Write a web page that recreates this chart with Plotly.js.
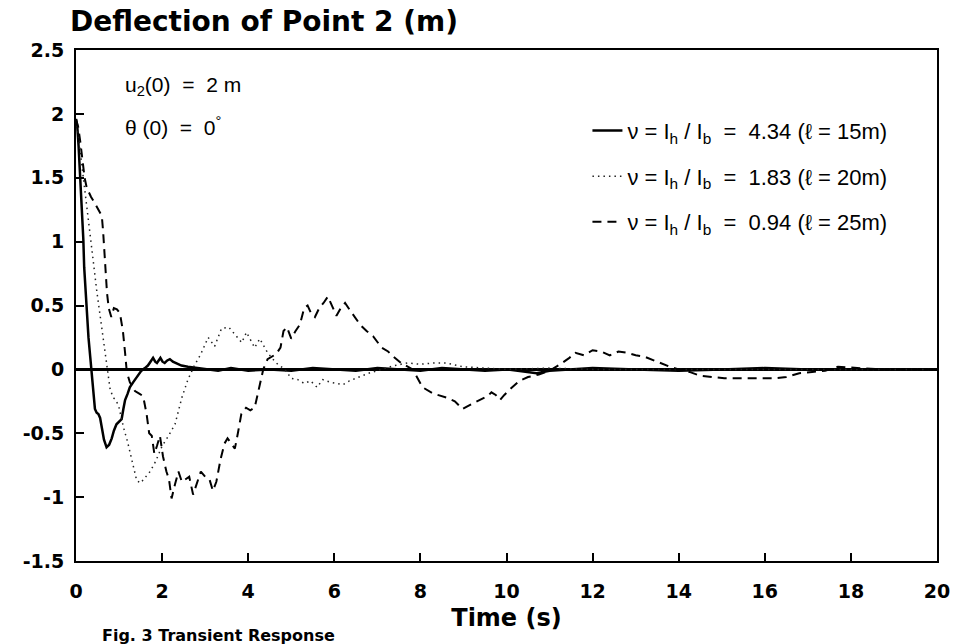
<!DOCTYPE html>
<html>
<head>
<meta charset="utf-8">
<script src="https://cdn.plot.ly/plotly-3.0.1.min.js"></script>
<style>html,body{margin:0;padding:0;background:#fff;}#chart{width:958px;height:644px;}</style>
</head>
<body>
<div id="chart"></div>
<script>
// ---- data ----
const seriesNames = [
  'ν = I<sub>h</sub> / I<sub>b</sub>  =  4.34 (ℓ = 15m)',
  'ν = I<sub>h</sub> / I<sub>b</sub>  =  1.83 (ℓ = 20m)',
  'ν = I<sub>h</sub> / I<sub>b</sub>  =  0.94 (ℓ = 25m)'
];

const tSolid = [0, 0.03, 0.06, 0.1, 0.14, 0.17, 0.19, 0.24, 0.29, 0.33, 0.36, 0.4, 0.44, 0.48, 0.52, 0.56, 0.6, 0.65, 0.71, 0.77,
  0.83, 0.88, 0.94, 1.0, 1.06, 1.1, 1.14, 1.2, 1.25, 1.33, 1.41, 1.47, 1.52, 1.6, 1.67, 1.73, 1.79, 1.84, 1.88, 1.92,
  1.96, 2.01, 2.06, 2.12, 2.18, 2.25, 2.33, 2.45, 2.6, 2.8, 3.0, 3.3, 3.6, 4.0, 4.5, 5.0, 5.5, 6.0, 6.5, 7.0,
  7.5, 8.0, 8.5, 9.0, 9.5, 10.0, 10.4, 10.7, 11.0, 11.5, 12, 13, 14, 15, 16, 17, 18, 19, 20];
const ySolid = [1.96, 1.9, 1.75, 1.5, 1.22, 1.02, 0.8, 0.5, 0.25, 0.1, 0.0, -0.17, -0.31, -0.34, -0.35, -0.38, -0.46, -0.55, -0.61, -0.59,
  -0.54, -0.48, -0.43, -0.41, -0.39, -0.31, -0.24, -0.19, -0.14, -0.1, -0.06, -0.03, -0.01, 0.01, 0.03, 0.06, 0.09, 0.06, 0.05, 0.07,
  0.09, 0.06, 0.05, 0.07, 0.08, 0.06, 0.05, 0.03, 0.02, 0.01, 0.0, -0.01, 0.01, -0.01, 0.0, -0.01, 0.01, 0.0, -0.01, 0.01,
  0.0, -0.01, 0.01, 0.0, -0.01, 0.0, -0.02, -0.03, -0.01, 0.0, 0.01, 0.0, -0.01, 0.0, 0.01, 0.0, 0.0, 0.0, 0.0];

const tDotted = [0, 0.05, 0.1, 0.15, 0.2, 0.25, 0.3, 0.35, 0.4, 0.48, 0.56, 0.64, 0.72, 0.79, 0.86, 0.93, 1.0, 1.1, 1.2, 1.3,
  1.41, 1.5, 1.6, 1.72, 1.85, 2.0, 2.15, 2.3, 2.46, 2.6, 2.75, 2.9, 3.07, 3.22, 3.38, 3.55, 3.7, 3.85, 3.96, 4.15,
  4.27, 4.45, 4.65, 4.85, 5.0, 5.15, 5.3, 5.45, 5.6, 5.73, 5.9, 6.05, 6.2, 6.35, 6.5, 6.8, 7.1, 7.4, 7.7, 8.0,
  8.3, 8.6, 9.0, 9.5, 10, 11, 12, 13, 14, 15, 16, 17, 18, 19, 20];
const yDotted = [1.95, 1.85, 1.7, 1.55, 1.4, 1.25, 1.12, 1.0, 0.85, 0.62, 0.41, 0.2, 0.02, -0.15, -0.22, -0.24, -0.3, -0.45, -0.57, -0.72,
  -0.87, -0.89, -0.85, -0.8, -0.72, -0.6, -0.52, -0.43, -0.22, -0.08, 0.03, 0.12, 0.25, 0.18, 0.32, 0.33, 0.27, 0.21, 0.29, 0.17,
  0.24, 0.13, 0.05, 0.0, -0.07, -0.08, -0.11, -0.09, -0.14, -0.08, -0.1, -0.11, -0.12, -0.09, -0.07, -0.03, 0.0, 0.03, 0.05, 0.04,
  0.05, 0.05, 0.02, 0.01, 0.0, 0.01, 0.0, 0.0, 0.0, 0.0, 0.0, 0.0, 0.0, 0.0, 0.0];

const tDashed = [0, 0.05, 0.1, 0.15, 0.2, 0.25, 0.3, 0.35, 0.44, 0.52, 0.6, 0.63, 0.66, 0.69, 0.72, 0.76, 0.82, 0.88, 0.95, 1.02,
  1.09, 1.14, 1.18, 1.25, 1.37, 1.47, 1.56, 1.64, 1.7, 1.76, 1.82, 1.88, 1.95, 2.02, 2.1, 2.16, 2.22, 2.3, 2.38, 2.46,
  2.55, 2.63, 2.72, 2.8, 2.9, 3.0, 3.1, 3.18, 3.26, 3.36, 3.45, 3.52, 3.6, 3.69, 3.76, 3.84, 3.95, 4.05, 4.15, 4.24,
  4.35, 4.45, 4.55, 4.65, 4.75, 4.82, 4.9, 5.0, 5.1, 5.2, 5.3, 5.38, 5.46, 5.55, 5.65, 5.75, 5.85, 5.95, 6.05, 6.15,
  6.25, 6.35, 6.45, 6.6, 6.75, 6.9, 7.1, 7.25, 7.37, 7.55, 7.82, 8.05, 8.3, 8.6, 8.8, 8.98, 9.2, 9.4, 9.56, 9.65,
  9.75, 9.85, 9.95, 10.1, 10.3, 10.5, 10.75, 11.0, 11.25, 11.46, 11.6, 11.8, 12.0, 12.2, 12.4, 12.6, 12.8, 13.0, 13.2, 13.5,
  13.8, 14.0, 14.25, 14.5, 14.8, 15.06, 15.5, 16.0, 16.2, 16.5, 16.8, 17.1, 17.4, 17.7, 18.2, 18.7, 19.3, 20];
const yDashed = [1.96, 1.9, 1.78, 1.62, 1.5, 1.42, 1.38, 1.35, 1.3, 1.25, 1.2, 1.08, 0.92, 0.76, 0.6, 0.48, 0.41, 0.48, 0.47, 0.44,
  0.3, 0.13, -0.02, -0.1, -0.17, -0.19, -0.21, -0.35, -0.5, -0.52, -0.66, -0.6, -0.52, -0.68, -0.8, -0.86, -1.01, -0.9, -0.8, -0.88,
  -0.86, -0.84, -0.98, -0.9, -0.8, -0.84, -0.86, -0.95, -0.88, -0.7, -0.58, -0.54, -0.58, -0.62, -0.5, -0.35, -0.3, -0.32, -0.3, -0.17,
  0.0, 0.08, 0.1, 0.12, 0.17, 0.3, 0.33, 0.24, 0.3, 0.35, 0.48, 0.5, 0.44, 0.41, 0.48, 0.52, 0.57, 0.5, 0.42, 0.48,
  0.52, 0.47, 0.42, 0.35, 0.3, 0.26, 0.17, 0.14, 0.1, 0.05, 0.0, -0.14, -0.19, -0.22, -0.25, -0.31, -0.27, -0.24, -0.21, -0.18,
  -0.2, -0.24, -0.2, -0.15, -0.09, -0.06, -0.04, -0.01, 0.04, 0.09, 0.13, 0.11, 0.15, 0.14, 0.11, 0.14, 0.13, 0.11, 0.1, 0.06,
  0.02, 0.0, -0.02, -0.05, -0.06, -0.07, -0.07, -0.07, -0.07, -0.06, -0.03, -0.02, -0.01, 0.02, 0.01, 0.0, 0.0, 0.0];

const xTicks = [0, 2, 4, 6, 8, 10, 12, 14, 16, 18, 20];
const yTickVals = [2.5, 2, 1.5, 1, 0.5, 0, -0.5, -1, -1.5];
const yTickText = ['2.5', '2', '1.5', '1', '0.5', '0', '-0.5', '-1', '-1.5'];

// ---- chart ----
const tickFont = {family: 'DejaVu Sans', size: 19, color: '#000', weight: 'bold'};
const traces = [
  {x: tSolid, y: ySolid, name: seriesNames[0], legendgroup: 'a', mode: 'lines',
   line: {color: '#000', width: 2.5, dash: 'solid'}},
  {x: tDotted, y: yDotted, name: seriesNames[1], legendgroup: 'b', mode: 'lines',
   line: {color: '#222', width: 1.5, dash: '1.5px,4px'}},
  {x: tDashed, y: yDashed, name: seriesNames[2], legendgroup: 'c', mode: 'lines',
   line: {color: '#000', width: 2, dash: '9px,6px'}}
];

const layout = {
  width: 958, height: 644,
  paper_bgcolor: '#fff', plot_bgcolor: '#fff',
  margin: {l: 76, r: 21, t: 50, b: 83, pad: 0},
  font: {family: 'Liberation Sans', color: '#000'},
  title: {text: 'Deflection of Point 2 (m)', x: 70 / 958, xref: 'container', xanchor: 'left',
          y: 1 - 21 / 644, yref: 'container', yanchor: 'middle',
          font: {family: 'DejaVu Sans', size: 28, weight: 'bold', color: '#000'}},
  xaxis: {range: [0, 20], tickvals: xTicks, ticks: 'inside', ticklen: 8, tickwidth: 2, tickcolor: '#000',
          showline: true, mirror: true, linewidth: 2, linecolor: '#000', showgrid: false, zeroline: false,
          tickfont: tickFont, ticklabelstandoff: 12,
          title: {text: 'Time (s)', standoff: 8, font: {family: 'DejaVu Sans', size: 24, weight: 'bold', color: '#000'}}},
  yaxis: {range: [-1.5, 2.5], tickvals: yTickVals, ticktext: yTickText, ticks: 'inside', ticklen: 8, tickwidth: 2,
          tickcolor: '#000', showline: true, mirror: true, linewidth: 2, linecolor: '#000', showgrid: false,
          zeroline: true, zerolinecolor: '#000', zerolinewidth: 3, tickfont: tickFont, ticklabelstandoff: 6},
  showlegend: true,
  legend: {x: 0.594, y: 0.883, xanchor: 'left', yanchor: 'top', bgcolor: 'rgba(0,0,0,0)', borderwidth: 0,
           font: {family: 'Liberation Sans', size: 22, color: '#000'}, tracegroupgap: 14, itemwidth: 30},
  annotations: [
    {text: 'u<sub>2</sub>(0)\u00a0\u00a0=\u00a0\u00a02 m', xref: 'paper', yref: 'paper', x: (123 - 76) / 861, y: (561 - 86) / 511,
     xanchor: 'left', yanchor: 'middle', showarrow: false, font: {family: 'Liberation Sans', size: 21, color: '#000'}},
    {text: 'θ (0)\u00a0\u00a0=\u00a0\u00a00<sup>°</sup>', xref: 'paper', yref: 'paper', x: (123 - 76) / 861, y: (561 - 126) / 511,
     xanchor: 'left', yanchor: 'middle', showarrow: false, font: {family: 'Liberation Sans', size: 21, color: '#000'}},
    {text: 'Fig. 3 Transient Response', xref: 'paper', yref: 'paper', x: (100 - 76) / 861, y: (561 - 624) / 511,
     xanchor: 'left', yanchor: 'top', showarrow: false, font: {family: 'DejaVu Sans', size: 16, weight: 'bold', color: '#000'}}
  ]
};

Plotly.newPlot('chart', traces, layout, {displayModeBar: false, staticPlot: true});
</script>
</body>
</html>
